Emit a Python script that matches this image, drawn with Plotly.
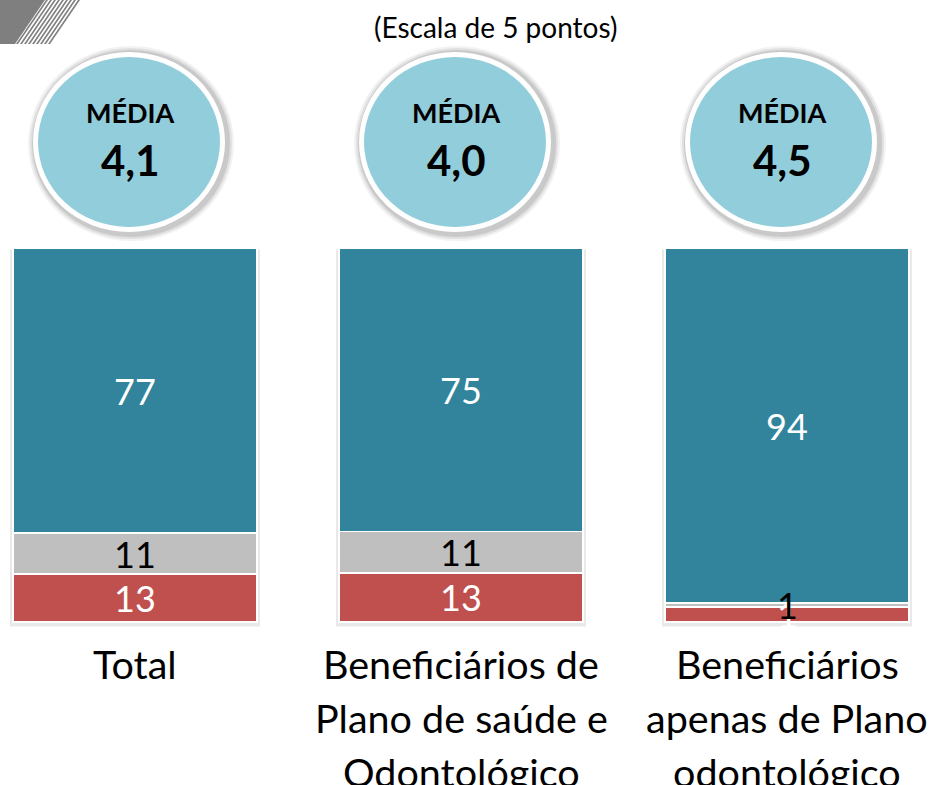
import plotly.graph_objects as go

categories = ["Total", "Beneficiários de<br>Plano de saúde e<br>Odontológico", "Beneficiários<br>apenas de Plano<br>odontológico"]
red_vals = [13, 13, 4]
gray_vals = [11, 11, 1]
teal_vals = [77, 75, 94]
red_labels = ["13", "13", "1"]
gray_labels = ["11", "11", "1"]
teal_labels = ["77", "75", "94"]
medias = ["4,1", "4,0", "4,5"]
title_text = "(Escala de 5 pontos)"

W, H = 930, 785
FONT = "Lato, 'Open Sans', sans-serif"
TEAL, GRAY, RED = "#31849B", "#BFBFBF", "#C0504D"
CIRCLE = "#92CDDC"

def px(x):
    return x / W

def py(y):
    return 1 - y / H

xs = list(range(len(categories)))
PPU_X = 326.0
PPU_Y = 3.74
xrange_ = [-135 / PPU_X, (W - 135) / PPU_X]
yrange_ = [-(H - 622) / PPU_Y, 100 + 248 / PPU_Y]
BW = 244 / PPU_X

fig = go.Figure()
for vals, col in [(red_vals, RED), (gray_vals, GRAY), (teal_vals, TEAL)]:
    fig.add_trace(go.Bar(x=xs, y=vals, width=BW, marker=dict(color=col, line=dict(color="white", width=1.5)),
                         hoverinfo="skip", showlegend=False))

shapes = []
annotations = []

# bar shadows
for i in xs:
    shapes.append(dict(type="rect", xref="x", yref="y", x0=i - BW / 2 - 3 / PPU_X, x1=i + BW / 2 + 3 / PPU_X,
                       y0=-1.2, y1=99.6, fillcolor="#e9e9e9", line=dict(width=0), layer="below"))

# segment labels (computed from normalized stacks)
LBL = 36
for i in xs:
    tot = red_vals[i] + gray_vals[i] + teal_vals[i]
    r = red_vals[i] / tot * 100
    g = gray_vals[i] / tot * 100
    t = teal_vals[i] / tot * 100
    annotations.append(dict(x=i, y=r / 2, xref="x", yref="y", text=red_labels[i], showarrow=False,
                            xanchor="center", yanchor="middle", font=dict(family=FONT, size=LBL, color="white")))
    annotations.append(dict(x=i, y=r + g / 2, xref="x", yref="y", text=gray_labels[i], showarrow=False,
                            xanchor="center", yanchor="middle", font=dict(family=FONT, size=LBL, color="black")))
    annotations.append(dict(x=i, y=r + g + t / 2, xref="x", yref="y", text=teal_labels[i], showarrow=False,
                            xanchor="center", yanchor="middle", font=dict(family=FONT, size=LBL, color="white")))

# category labels, line by line
for i, cat in enumerate(categories):
    for j, line in enumerate(cat.split("<br>")):
        annotations.append(dict(x=i, y=py(663 + 54 * j), xref="x", yref="paper", text=line, showarrow=False,
                                xanchor="center", yanchor="middle", font=dict(family=FONT, size=39.5, color="black")))

# circles with MÉDIA
for i in xs:
    cx = 135 + i * PPU_X - 6
    cy = 142
    rx, ry = 96, 90
    for k, op in [(7, 0.05), (5, 0.07), (3, 0.10)]:
        shapes.append(dict(type="circle", xref="paper", yref="paper",
                           x0=px(cx - rx - k + 2), x1=px(cx + rx + k + 2), y0=py(cy + ry + k + 2), y1=py(cy - ry - k + 1),
                           fillcolor=f"rgba(0,0,0,{op})", line=dict(width=0), layer="above"))
    shapes.append(dict(type="circle", xref="paper", yref="paper",
                       x0=px(cx - rx), x1=px(cx + rx), y0=py(cy + ry), y1=py(cy - ry),
                       fillcolor="white", line=dict(width=0), layer="above"))
    shapes.append(dict(type="circle", xref="paper", yref="paper",
                       x0=px(cx - rx + 5), x1=px(cx + rx - 5), y0=py(cy + ry - 5), y1=py(cy - ry + 5),
                       fillcolor=CIRCLE, line=dict(width=0), layer="above"))
    annotations.append(dict(x=px(cx + 1), y=py(113), xref="paper", yref="paper", text="<b>MÉDIA</b>", showarrow=False,
                            xanchor="center", yanchor="middle", font=dict(family=FONT, size=27, color="black")))
    annotations.append(dict(x=px(cx + 1), y=py(160), xref="paper", yref="paper", text=f"<b>{medias[i]}</b>", showarrow=False,
                            xanchor="center", yanchor="middle", font=dict(family=FONT, size=42, color="black")))

# title
annotations.append(dict(x=px(495), y=py(27), xref="paper", yref="paper", text=title_text, showarrow=False,
                        xanchor="center", yanchor="middle", font=dict(family=FONT, size=28, color="black")))

# hatched corner logo
LOGO = "#7f7f7f"
def path(pts):
    return "M " + " L ".join(f"{px(a):.5f},{py(b):.5f}" for a, b in pts) + " Z"
shapes.append(dict(type="path", xref="paper", yref="paper", path=path([(0, 0), (45, 0), (15, 44), (0, 44)]),
                   fillcolor=LOGO, line=dict(width=0)))
for k in range(9):
    x0 = 46 + 4 * k
    shapes.append(dict(type="path", xref="paper", yref="paper",
                       path=path([(x0, 0), (x0 + 2, 0), (x0 + 2 - 30, 44), (x0 - 30, 44)]),
                       fillcolor=LOGO, line=dict(width=0)))

fig.update_layout(
    width=W, height=H,
    margin=dict(l=0, r=0, t=0, b=0),
    barmode="stack", barnorm="percent",
    plot_bgcolor="white", paper_bgcolor="white",
    xaxis=dict(range=xrange_, visible=False, fixedrange=True),
    yaxis=dict(range=yrange_, visible=False, fixedrange=True),
    shapes=shapes, annotations=annotations,
    showlegend=False,
)
fig.write_html("out.html", config={"displayModeBar": False},
               post_script="document.body.style.margin='0px';document.body.style.overflow='hidden';")
